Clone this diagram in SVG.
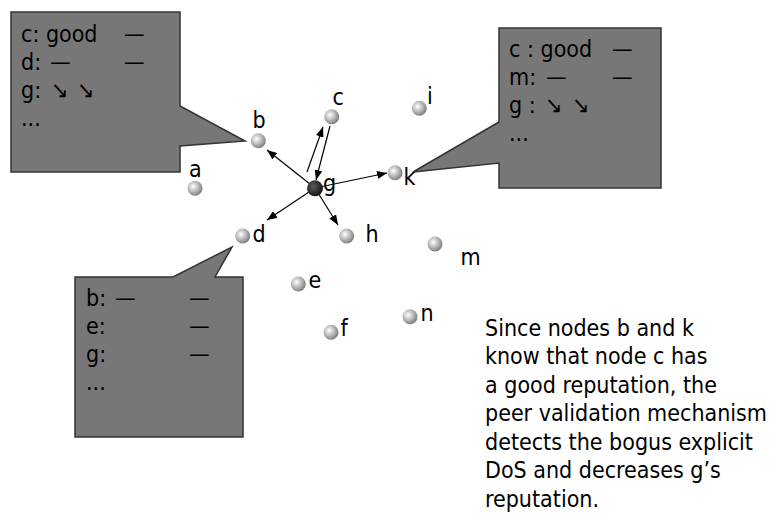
<svg xmlns="http://www.w3.org/2000/svg" width="774" height="516" viewBox="0 0 774 516">
<style>
  text { font-family: "DejaVu Sans Condensed", "DejaVu Sans", sans-serif; font-stretch: condensed; font-size: 23px; fill: #000; }
  .callout { fill: #777777; stroke: #333333; stroke-width: 1.5; }
  .conn { stroke: #000; stroke-width: 1.2; fill: none; marker-end: url(#ah); }
  .node { fill: url(#sphere); }
  .nodeDark { fill: url(#sphereDark); }
</style>
<defs>
  <radialGradient id="sphere" cx="0.38" cy="0.38" r="0.65">
    <stop offset="0" stop-color="#ffffff"/>
    <stop offset="0.45" stop-color="#c4c4c4"/>
    <stop offset="1" stop-color="#7c7c7c"/>
  </radialGradient>
  <radialGradient id="sphereDark" cx="0.38" cy="0.38" r="0.65">
    <stop offset="0" stop-color="#5a5a5a"/>
    <stop offset="1" stop-color="#141414"/>
  </radialGradient>
  <marker id="ah" markerUnits="userSpaceOnUse" markerWidth="10" markerHeight="8" refX="10" refY="4" orient="auto">
    <path d="M0,0 L10,4 L0,8 z" fill="#000"/>
  </marker>
</defs>

<g id="callout-b">
  <path class="callout" d="M11,12 H180 V106 L245,141 L180,146 V172 H11 Z"/>
  <text x="21" y="41.7">c: good<tspan x="124">—</tspan></text>
  <text x="21" y="69.7">d:<tspan x="50">—</tspan><tspan x="124">—</tspan></text>
  <text x="21" y="97.7">g:<tspan x="51">↘</tspan><tspan x="77">↘</tspan></text>
  <text x="21" y="125.7">...</text>
</g>

<g id="callout-k">
  <path class="callout" d="M499,28 H661 V188 H499 V163 L413,172 L499,122 Z"/>
  <text x="509" y="57">c : good<tspan x="612">—</tspan></text>
  <text x="509" y="85">m:<tspan x="546">—</tspan><tspan x="612">—</tspan></text>
  <text x="509" y="113">g :<tspan x="545">↘</tspan><tspan x="572">↘</tspan></text>
  <text x="509" y="141">...</text>
</g>

<g id="callout-d">
  <path class="callout" d="M75,277 H173 L232,247 L215,277 H243 V437 H75 Z"/>
  <text x="86" y="306">b:<tspan x="115">—</tspan><tspan x="189">—</tspan></text>
  <text x="86" y="334">e:<tspan x="189">—</tspan></text>
  <text x="86" y="362">g:<tspan x="189">—</tspan></text>
  <text x="86" y="390">...</text>
</g>

<g id="connectors">
  <line class="conn" x1="315" y1="188" x2="267" y2="150"/>
  <line class="conn" x1="307" y1="172" x2="323" y2="127"/>
  <line class="conn" x1="330" y1="126" x2="316" y2="180"/>
  <line class="conn" x1="315" y1="188" x2="387" y2="173"/>
  <line class="conn" x1="315" y1="188" x2="267" y2="220"/>
  <line class="conn" x1="315" y1="188" x2="338" y2="225"/>
</g>

<g id="node-a"><circle class="node" cx="195" cy="188.3" r="7.5"/><text x="189" y="177">a</text></g>
<g id="node-b"><circle class="node" cx="258.3" cy="140.7" r="7.5"/><text x="252.5" y="128">b</text></g>
<g id="node-c"><circle class="node" cx="331.7" cy="116.7" r="7.5"/><text x="332.5" y="105">c</text></g>
<g id="node-i"><circle class="node" cx="419.3" cy="108.3" r="7.5"/><text x="427" y="104">i</text></g>
<g id="node-g"><circle class="nodeDark" cx="315" cy="188.3" r="8"/><text x="323" y="191">g</text></g>
<g id="node-k"><circle class="node" cx="395" cy="172.7" r="7.5"/><text x="403.5" y="185">k</text></g>
<g id="node-d"><circle class="node" cx="242.7" cy="236" r="7.5"/><text x="252.5" y="241.7">d</text></g>
<g id="node-h"><circle class="node" cx="346.7" cy="236" r="7.5"/><text x="365.5" y="241.7">h</text></g>
<g id="node-m"><circle class="node" cx="435" cy="244" r="7.5"/><text x="460.5" y="265">m</text></g>
<g id="node-e"><circle class="node" cx="298.3" cy="284" r="7.5"/><text x="308.5" y="288">e</text></g>
<g id="node-n"><circle class="node" cx="410" cy="316.7" r="7.5"/><text x="420.5" y="320.7">n</text></g>
<g id="node-f"><circle class="node" cx="331" cy="332.3" r="7.5"/><text x="340.5" y="336">f</text></g>

<g id="note">
  <text x="485" y="335.7">Since nodes b and k</text>
  <text x="485" y="364.2">know that node c has</text>
  <text x="485" y="392.7">a good reputation, the</text>
  <text x="485" y="421.2">peer validation mechanism</text>
  <text x="485" y="449.7">detects the bogus explicit</text>
  <text x="485" y="478.2">DoS and decreases g’s</text>
  <text x="485" y="506.7">reputation.</text>
</g>
</svg>
